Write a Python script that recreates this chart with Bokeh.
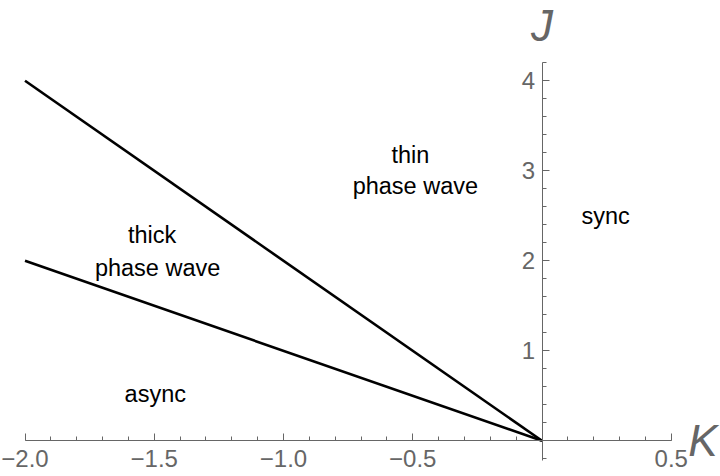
from bokeh.plotting import figure
from bokeh.models import FixedTicker, Label, ColumnDataSource, Range1d
from bokeh.core.properties import value
from bokeh.embed import file_html
from bokeh.resources import INLINE

# boundary lines of the phase diagram (K on x, J on y)
K_line = [-2.0, 0.0]
J_upper = [4.0, 0.0]
J_lower = [2.0, 0.0]

# region labels
label_text = ["thin", "phase wave", "sync", "thick", "phase wave", "async"]
label_K = [-0.509, -0.490, 0.246, -1.508, -1.487, -1.496]
label_J = [3.18, 2.836, 2.50, 2.288, 1.925, 0.517]

# ticks
x_major = [-2.0, -1.5, -1.0, -0.5, 0.5]
x_major_labels = ["\u22122.0", "\u22121.5", "\u22121.0", "\u22120.5", "0.5"]
x_minor = [round(-2.0 + 0.1 * i, 1) for i in range(26)]
y_major = [1, 2, 3, 4]
y_major_labels = ["1", "2", "3", "4"]
y_minor = [round(-0.2 + 0.2 * i, 1) for i in range(23)]

GRAY = "#666666"
FONT = "Liberation Sans"

W, H = 720, 476
X0, XS = 541.5, 258.5   # pixel of K=0, pixels per unit
Y0, YS = 440.3, 90.0    # pixel of J=0, pixels per unit

p = figure(width=W, height=H,
           x_range=Range1d(-X0 / XS, (W - X0) / XS),
           y_range=Range1d((Y0 - H) / YS, Y0 / YS),
           output_backend="svg", toolbar_location=None, min_border=0)
p.outline_line_color = None
p.xgrid.visible = False
p.ygrid.visible = False
p.background_fill_color = "white"
p.border_fill_color = "white"

p.line(K_line, J_upper, line_color="black", line_width=2.6)
p.line(K_line, J_lower, line_color="black", line_width=2.6)

src = ColumnDataSource(dict(x=label_K, y=label_J, t=label_text))
p.text(x="x", y="y", text="t", source=src, text_align="center",
       text_baseline="alphabetic", text_font=value(FONT),
       text_font_size="23.5px", text_color="black")

for ax, major, labels, minor, bounds in (
        (p.xaxis[0], x_major, x_major_labels, x_minor, (-2.0, 0.5)),
        (p.yaxis[0], y_major, y_major_labels, y_minor, (-0.22, 4.2))):
    ax.fixed_location = 0
    ax.bounds = bounds
    ax.ticker = FixedTicker(ticks=major, minor_ticks=minor)
    ax.major_label_overrides = {float(v): l for v, l in zip(major, labels)}
    ax.axis_line_color = GRAY
    ax.axis_line_width = 1
    ax.major_tick_line_color = GRAY
    ax.minor_tick_line_color = GRAY
    ax.major_tick_in = 7
    ax.major_tick_out = 0
    ax.minor_tick_in = 4
    ax.minor_tick_out = 0
    ax.major_label_text_color = GRAY
    ax.major_label_text_font = FONT
    ax.major_label_text_font_size = "24px"

p.xaxis[0].major_label_standoff = 9
p.yaxis[0].major_label_standoff = 7

p.add_layout(Label(x=0.566, y=0.0, text="K", text_font=FONT,
                   text_font_style="italic", text_font_size="44px",
                   text_color=GRAY, text_align="left",
                   text_baseline="alphabetic"))
p.add_layout(Label(x=0.0, y=4.61, text="J", text_font=FONT,
                   text_font_style="italic", text_font_size="44px",
                   text_color=GRAY, text_align="center",
                   text_baseline="alphabetic"))

open("out.html", "w").write(file_html(p, INLINE))
